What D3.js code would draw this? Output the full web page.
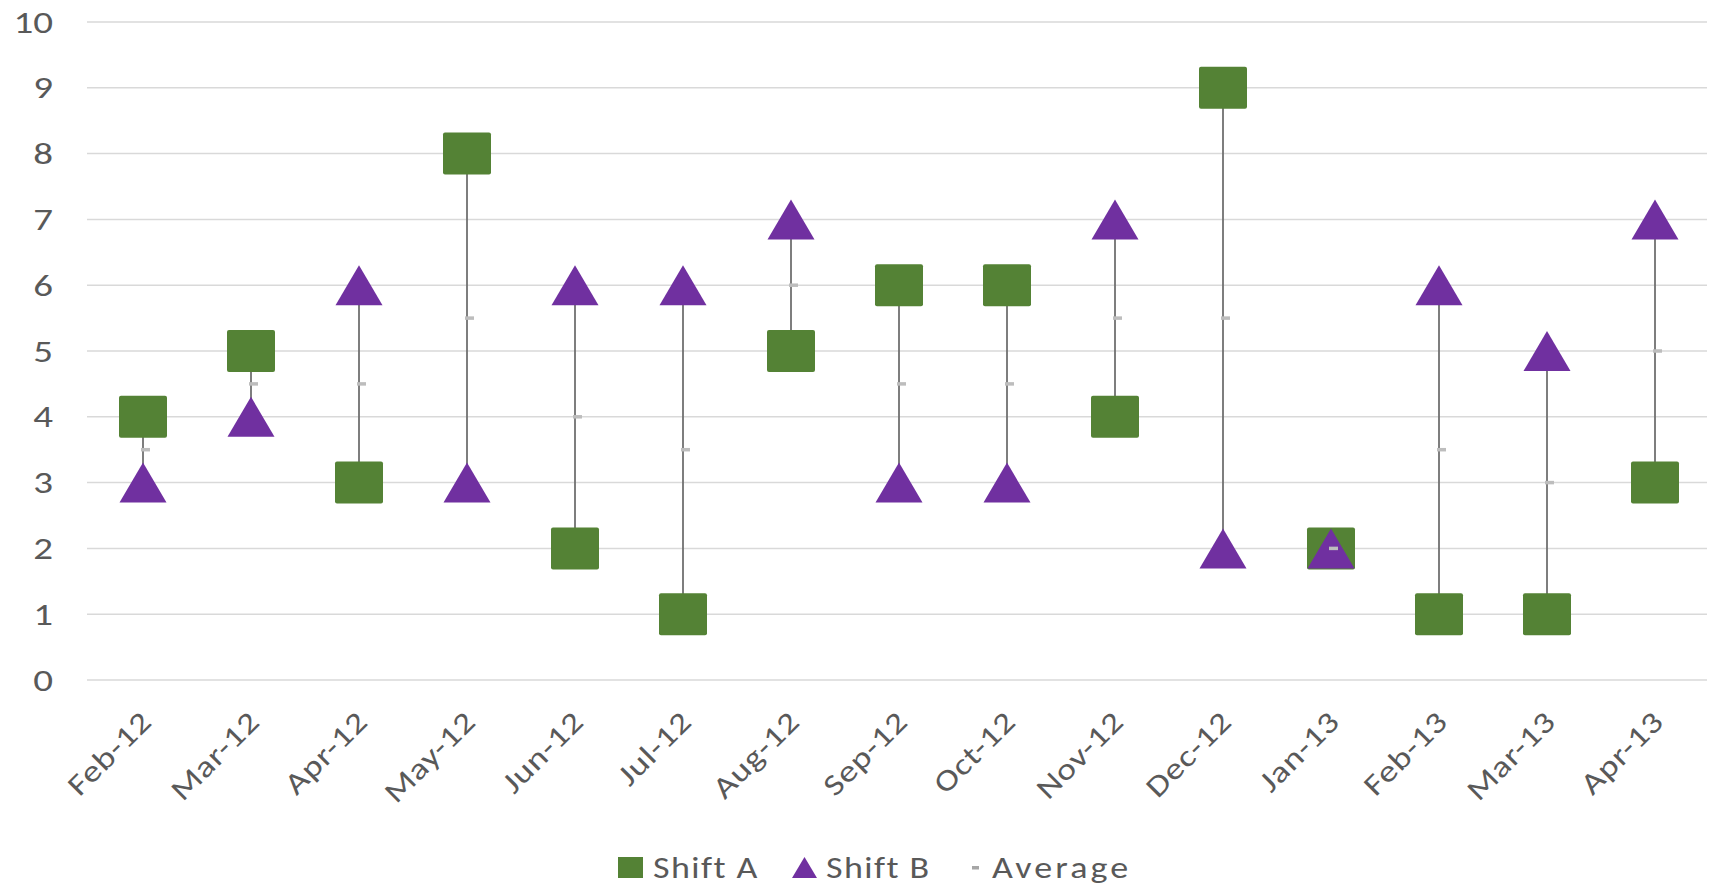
<!DOCTYPE html>
<html>
<head>
<meta charset="utf-8">
<script src="https://cdn.jsdelivr.net/npm/d3@7"></script>
<style>
  html, body { margin: 0; padding: 0; background: #ffffff; }
  svg { display: block; }
  text { font-family: Carlito, Calibri, Lato, "Open Sans", sans-serif; fill: #595959; }
</style>
</head>
<body>
<svg id="chart" width="1711" height="885"></svg>
<script>
// Monthly counts per shift, with the midpoint of the two shifts
const months  = ["Feb-12","Mar-12","Apr-12","May-12","Jun-12","Jul-12","Aug-12","Sep-12",
                 "Oct-12","Nov-12","Dec-12","Jan-13","Feb-13","Mar-13","Apr-13"];
const shiftA  = [4, 5, 3, 8, 2, 1, 5, 6, 6, 4, 9, 2, 1, 1, 3];
const shiftB  = [3, 4, 6, 3, 6, 6, 7, 3, 3, 7, 2, 2, 6, 5, 7];
const average = [3.5, 4.5, 4.5, 5.5, 4, 3.5, 6, 4.5, 4.5, 5.5, 5.5, 2, 3.5, 3, 5];
const yTicks  = [0, 1, 2, 3, 4, 5, 6, 7, 8, 9, 10];
const legendNames = ["Shift A", "Shift B", "Average"];

const GREEN = "#548235", PURPLE = "#7030a0";
const SX = 1.2;               // horizontal stretch of the chart's text
const FONT = 30;

const svg = d3.select("#chart");

const x = d3.scalePoint().domain(months).range([143, 1655]);
const y = d3.scaleLinear().domain([0, 10]).range([680, 22]);
const gridLeft = 87, gridRight = 1707;

// gridlines
svg.append("g").selectAll("line").data(yTicks).join("line")
  .attr("x1", gridLeft).attr("x2", gridRight)
  .attr("y1", d => y(d)).attr("y2", d => y(d))
  .attr("stroke", "#d9d9d9").attr("stroke-width", 1.5);

// y tick labels
svg.append("g").selectAll("text").data(yTicks).join("text")
  .attr("transform", d => `translate(53,${y(d)}) scale(1.3,1)`)
  .attr("text-anchor", "end").attr("dy", "0.35em")
  .attr("font-size", FONT)
  .text(d => d);

// x tick labels, rotated 45°
svg.append("g").selectAll("text").data(months).join("text")
  .attr("transform", d => `translate(${x(d) + 3},716) rotate(-45) scale(${SX},1)`)
  .attr("text-anchor", "end").attr("dy", "0.35em")
  .attr("font-size", FONT).attr("letter-spacing", 0.6)
  .text(d => d);

const rows = months.map((m, i) => ({ m, a: shiftA[i], b: shiftB[i], avg: average[i] }));

// high-low connectors
svg.append("g").selectAll("line").data(rows).join("line")
  .attr("x1", d => x(d.m)).attr("x2", d => x(d.m))
  .attr("y1", d => y(d.a)).attr("y2", d => y(d.b))
  .attr("stroke", "#707070").attr("stroke-width", 1.8);

// Shift A squares
const SQW = 48, SQH = 42;
svg.append("g").selectAll("rect").data(rows).join("rect")
  .attr("x", d => x(d.m) - SQW / 2).attr("y", d => y(d.a) - SQH / 2)
  .attr("width", SQW).attr("height", SQH).attr("rx", 2)
  .attr("fill", GREEN);

// Shift B triangles
const TW = 47, TH = 40;
const tri = (cx, cy, w, h) => `M${cx},${cy - h / 2}L${cx + w / 2},${cy + h / 2}L${cx - w / 2},${cy + h / 2}Z`;
svg.append("g").selectAll("path").data(rows).join("path")
  .attr("d", d => tri(x(d.m), y(d.b), TW, TH))
  .attr("fill", PURPLE);

// Average dashes
svg.append("g").selectAll("rect").data(rows).join("rect")
  .attr("x", d => x(d.m) - 2).attr("y", d => y(d.avg) - 1.75)
  .attr("width", 9).attr("height", 3.5)
  .attr("fill", "#bdbdbd");

// legend
const lg = svg.append("g");
lg.append("rect").attr("x", 618).attr("y", 857).attr("width", 25).attr("height", 21).attr("fill", GREEN);
lg.append("text").attr("transform", `translate(653,878) scale(${SX},1)`).attr("font-size", FONT)
  .attr("letter-spacing", 1.2).text(legendNames[0]);
lg.append("path").attr("d", tri(804.5, 867.5, 25, 21)).attr("fill", PURPLE);
lg.append("text").attr("transform", `translate(826,878) scale(${SX},1)`).attr("font-size", FONT)
  .attr("letter-spacing", 1.2).text(legendNames[1]);
lg.append("rect").attr("x", 972).attr("y", 866).attr("width", 7).attr("height", 3.5).attr("fill", "#a6a6a6");
lg.append("text").attr("transform", `translate(992,878) scale(${SX},1)`).attr("font-size", FONT)
  .attr("letter-spacing", 2.6).text(legendNames[2]);
</script>
</body>
</html>
